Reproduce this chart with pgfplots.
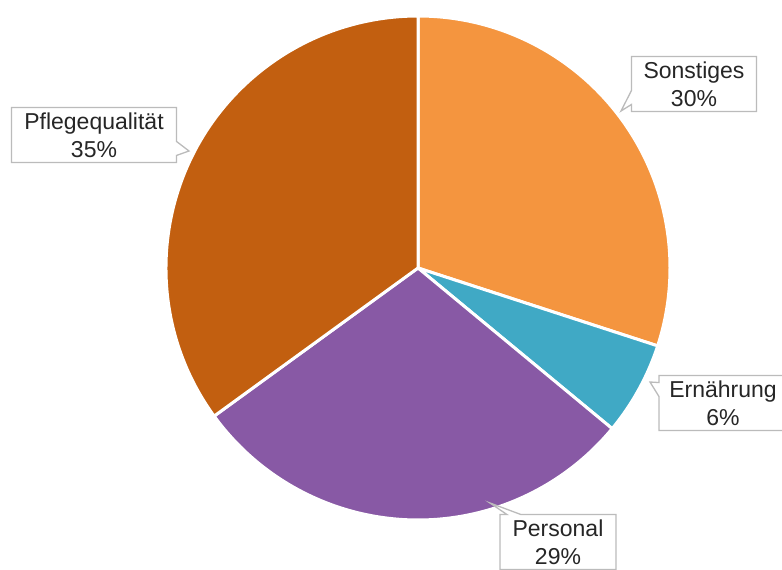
\documentclass[border=0pt]{standalone}
\usepackage{fontspec}
\setmainfont{Liberation Sans}
\usepackage{pgfplots}
\usepackage{pgfplotstable}
\pgfplotsset{compat=1.18}
\usetikzlibrary{shapes.callouts}
\definecolor{sonst}{HTML}{F4953F}
\definecolor{ern}{HTML}{40A9C5}
\definecolor{pers}{HTML}{8859A5}
\definecolor{pflege}{HTML}{C25F10}
\definecolor{txt}{HTML}{262626}
\definecolor{boxline}{HTML}{BBBBBB}

\pgfplotstableread[col sep=comma]{
label,value
Sonstiges,30
Ernährung,6
Personal,29
Pflegequalität,35
}\piedata

\tikzset{lbl/.style={rectangle callout, draw=boxline, line width=1.3pt, fill=white,
    text=txt, align=center, inner xsep=8pt, inner ysep=5pt, callout pointer width=14pt}}

\begin{document}
\begin{tikzpicture}[font=\fontsize{23}{28}\selectfont]
\pgfplotstablegetelem{0}{value}\of\piedata \edef\vA{\pgfplotsretval}
\pgfplotstablegetelem{1}{value}\of\piedata \edef\vB{\pgfplotsretval}
\pgfplotstablegetelem{2}{value}\of\piedata \edef\vC{\pgfplotsretval}
\pgfplotstablegetelem{3}{value}\of\piedata \edef\vD{\pgfplotsretval}
\pgfmathsetmacro\aA{90}
\pgfmathsetmacro\aB{\aA-3.6*\vA}
\pgfmathsetmacro\aC{\aB-3.6*\vB}
\pgfmathsetmacro\aD{\aC-3.6*\vC}
\pgfmathsetmacro\aE{\aD-3.6*\vD}
\begin{axis}[name=ax, x=1pt, y=1pt, xmin=0, xmax=782, ymin=0, ymax=570,
  y dir=reverse, hide axis, clip=false]
\path (axis cs:0,0) rectangle (axis cs:782,570);
\filldraw[fill=sonst, draw=white, line width=3pt, line join=round]
  (axis cs:418,268) -- ++(\aA:252pt) arc[start angle=\aA, end angle=\aB, radius=252pt] -- cycle;
\filldraw[fill=ern, draw=white, line width=3pt, line join=round]
  (axis cs:418,268) -- ++(\aB:252pt) arc[start angle=\aB, end angle=\aC, radius=252pt] -- cycle;
\filldraw[fill=pers, draw=white, line width=3pt, line join=round]
  (axis cs:418,268) -- ++(\aC:252pt) arc[start angle=\aC, end angle=\aD, radius=252pt] -- cycle;
\filldraw[fill=pflege, draw=white, line width=3pt, line join=round]
  (axis cs:418,268) -- ++(\aD:252pt) arc[start angle=\aD, end angle=\aE, radius=252pt] -- cycle;
\node[lbl, minimum width=125pt, callout absolute pointer={(axis cs:621,111)}] at (axis cs:694,84) {Sonstiges\\\vA\%};
\node[lbl, minimum width=165pt, callout absolute pointer={(axis cs:189,151)}] at (axis cs:94,135) {Pflegequalität\\\vD\%};
\node[lbl, minimum width=128pt, callout absolute pointer={(axis cs:650,382)}] at (axis cs:723,403) {Ernährung\\\vB\%};
\node[lbl, minimum width=116pt, callout absolute pointer={(axis cs:490,503)}] at (axis cs:558,542) {Personal\\\vC\%};
\end{axis}
\pgfresetboundingbox
\path[use as bounding box] (ax.south west) rectangle (ax.north east);
\end{tikzpicture}
\end{document}
